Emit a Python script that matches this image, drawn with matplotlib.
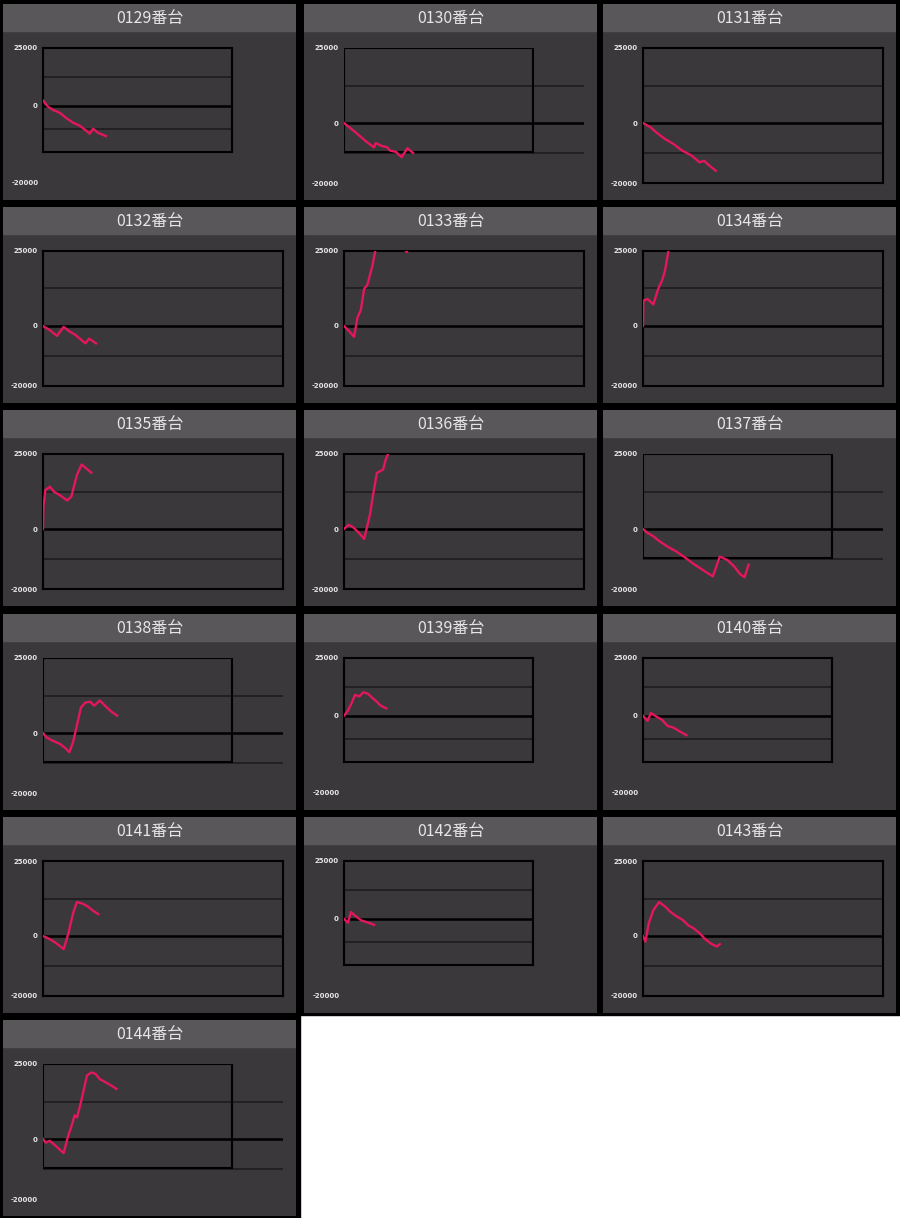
import matplotlib
matplotlib.use("Agg")
import matplotlib.pyplot as plt
from matplotlib.patches import Rectangle

plt.rcParams["font.family"] = ["Noto Sans CJK JP", "DejaVu Sans"]
plt.rcParams["axes.unicode_minus"] = False

# machine numbers and how each screenshot was rendered
TITLES = ["0129番台", "0130番台", "0131番台", "0132番台", "0133番台", "0134番台",
          "0135番台", "0136番台", "0137番台", "0138番台", "0139番台", "0140番台",
          "0141番台", "0142番台", "0143番台", "0144番台"]
# full: normal chart, small: whole chart squashed, mixed: full chart with a stale small frame
KINDS = ["small", "mixed", "full", "full", "full", "full",
         "full", "full", "mixed", "mixed", "small", "small",
         "full", "small", "full", "mixed"]

# x: progress through the day (% of chart width), y: balance (yen)
X_VALS = [
    [0, 2.6, 5.3, 8.8, 12.3, 15.9, 19.4, 22.6, 24.7, 26.5, 29.1, 33.2],
    [0, 4.8, 9.6, 12.5, 13.2, 15.6, 18.0, 19.2, 21.6, 24.0, 26.4, 28.8],
    [0, 3.1, 5.5, 9.1, 12.7, 16.3, 20.0, 23.6, 25.5, 27.2, 30.3],
    [0, 2.9, 5.8, 8.6, 11.0, 13.4, 15.3, 17.7, 19.2, 22.1],
    [0, 2.1, 4.2, 5.6, 7.0, 8.4, 9.7, 11.8, 13.2, 19.0, 24.8, 26.2],
    [0, 0.2, 1.9, 4.3, 6.3, 7.9, 9.1, 10.6],
    [0, 0.2, 1.0, 2.9, 4.6, 7.0, 10.1, 11.8, 14.1, 16.1, 18.2, 20.1],
    [0, 1.9, 3.6, 6.0, 8.4, 10.8, 12.0, 13.7, 16.3, 17.3, 18.8],
    [0, 1.9, 4.3, 6.7, 10.3, 13.9, 17.5, 21.2, 24.8, 29.1, 32.0, 35.1, 38.0, 40.4, 42.3, 44.0],
    [0, 1.4, 3.8, 7.0, 9.4, 11.0, 12.5, 14.1, 15.8, 17.7, 19.7, 21.3, 23.7, 26.1, 28.5, 30.9],
    [0, 2.1, 4.2, 5.8, 8.2, 10.3, 12.7, 15.2, 17.3, 19.4, 22.4],
    [0, 2.4, 4.2, 7.0, 10.0, 13.0, 16.1, 19.1, 23.0],
    [0, 2.2, 4.6, 6.5, 8.6, 10.6, 12.5, 14.1, 16.5, 18.9, 20.9, 23.0],
    [0, 2.1, 3.7, 6.1, 9.1, 12.2, 15.9],
    [0, 1.0, 2.4, 4.3, 6.7, 9.1, 11.5, 13.9, 16.3, 18.8, 21.2, 23.6, 26.0, 28.4, 30.8, 32.0],
    [0, 1.1, 2.8, 5.6, 8.6, 10.4, 11.8, 13.2, 14.2, 16.0, 18.3, 20.1, 21.9, 23.6, 26.1, 28.5, 30.6],
]
Y_VALS = [
    [2300, -350, -1800, -3000, -5300, -7300, -8600, -10600, -12100, -9900, -11700, -13100],
    [0, -3100, -6400, -8100, -6700, -7600, -8100, -9200, -9600, -11400, -8400, -10000],
    [0, -1400, -3100, -5300, -7000, -9200, -10700, -13100, -12600, -13900, -15900],
    [0, -1400, -3300, -300, -1800, -2900, -4200, -5800, -4200, -5800],
    [0, -1700, -3600, 2800, 5300, 12400, 13600, 20000, 25800, 31000, 25800, 24700],
    [0, 8500, 9000, 7200, 12300, 15100, 18200, 25000],
    [0, 7500, 13000, 14100, 12400, 11300, 9500, 10800, 17900, 21500, 20100, 18800],
    [0, 1400, 700, -1100, -3300, 4700, 10800, 18700, 19800, 22900, 26000],
    [0, -1300, -2400, -4000, -5900, -7500, -9500, -11700, -13600, -15800, -9200, -10300,
     -12500, -15000, -16100, -11900],
    [0, -1400, -2500, -3600, -5100, -6400, -3100, 2400, 8500, 10200, 10400, 9100, 10800,
     8900, 7100, 5800],
    [0, 2200, 5800, 9000, 8400, 10200, 9500, 7600, 6100, 4400, 3200],
    [0, -2200, 1200, -300, -1700, -4400, -5100, -6600, -8400],
    [0, -800, -1900, -3000, -4400, 900, 7500, 11300, 10800, 9700, 8400, 7300],
    [0, -1700, 2900, 1200, -700, -1500, -2600],
    [0, -1900, 4200, 8600, 11300, 9900, 8000, 6600, 5500, 3600, 2500, 900, -1100, -2600,
     -3500, -2700],
    [0, -1200, -600, -2500, -4700, 800, 4100, 7900, 7200, 12900, 21100, 22200, 21700,
     20000, 18900, 17800, 16700],
]
Y_TICKS = [-20000, 0, 25000]
GRID_VALS = [12500, -10000]

W, H = 900, 1218
COL_X = [3, 304, 603]
ROW_Y = [4, 207, 410, 614, 817, 1020]
PANEL_W, PANEL_H, HEAD_H = 293, 196, 27

HEAD = "#5a575b"
BODY = "#3b383c"
GRID = "#222023"
LINE = "#e3175a"
TXT = "#e6e6e6"


def fig_rect(x, y, w, h):
    return [x / W, 1 - (y + h) / H, w / W, h / H]


fig = plt.figure(figsize=(W / 100, H / 100), dpi=100, facecolor="white")

# black backing behind the screenshots
for x, y, w, h in [(0, 0, 900, 1015), (0, 1015, 300, 203)]:
    r = fig_rect(x, y, w, h)
    fig.patches.append(Rectangle((r[0], r[1]), r[2], r[3], transform=fig.transFigure,
                                 color="black", zorder=-10))

for i, title in enumerate(TITLES):
    row, col = divmod(i, 3)
    kind = KINDS[i]
    px, py = COL_X[col], ROW_Y[row]

    bg = fig.add_axes(fig_rect(px, py, PANEL_W, PANEL_H))
    bg.set_xlim(0, PANEL_W)
    bg.set_ylim(PANEL_H, 0)
    bg.axis("off")
    bg.add_patch(Rectangle((0, 0), PANEL_W, PANEL_H, color=BODY))
    bg.add_patch(Rectangle((0, 0), PANEL_W, HEAD_H, color=HEAD))
    bg.text(PANEL_W / 2, HEAD_H / 2 + 1, title, ha="center", va="center",
            fontsize=11.5, color=TXT)

    if kind == "small":
        ax = fig.add_axes(fig_rect(px + 40, py + 44, 189, 104))
    else:
        ax = fig.add_axes(fig_rect(px + 40, py + 44, 240, 135))
    ax.set_facecolor("none")
    ax.set_xlim(0, 100)
    ax.set_ylim(-20000, 25000)
    ax.set_xticks([])

    for g in GRID_VALS:
        ax.axhline(g, color=GRID, lw=1.4, zorder=1)
    ax.axhline(0, color="black", lw=1.8, zorder=2)
    ax.plot(X_VALS[i], Y_VALS[i], color=LINE, lw=1.7, zorder=3)

    for s in ax.spines.values():
        s.set_color("black")
        s.set_linewidth(1.5)
        s.set_visible(kind != "mixed")
    if kind == "mixed":
        ax.add_patch(Rectangle((0, 1 - 104 / 135), 189 / 240, 104 / 135,
                               transform=ax.transAxes, fill=False, ec="black",
                               lw=1.5, zorder=2))

    if kind == "small":
        ax.set_yticks([0, 25000])
        bg.text(36, 179, "-20000", ha="right", va="center", fontsize=5,
                fontweight="bold", color=TXT, family="DejaVu Sans")
    else:
        ax.set_yticks(Y_TICKS)
    ax.tick_params(axis="y", length=0, pad=4, labelsize=5, labelcolor=TXT)
    for lbl in ax.get_yticklabels():
        lbl.set_fontweight("bold")
        lbl.set_family("DejaVu Sans")

fig.savefig("out.png", dpi=100, facecolor=fig.get_facecolor())
